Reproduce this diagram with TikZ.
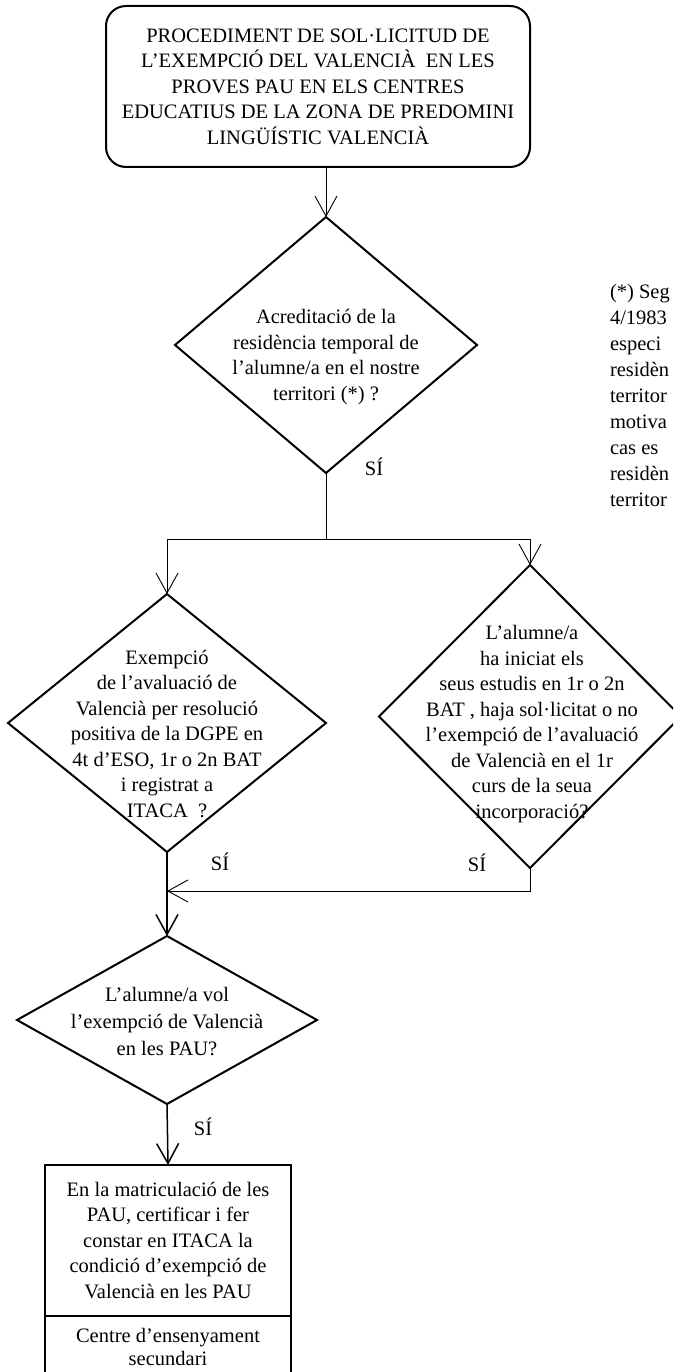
\documentclass[tikz,border=0pt]{standalone}
\usepackage{fontspec}
\setmainfont{Liberation Serif}
\usetikzlibrary{shapes.geometric,arrows.meta,positioning}

\begin{document}
\begin{tikzpicture}[x = 1pt, y = -1pt,
        every node/.style = {font = \fontsize{20.5}{25.5}\selectfont, inner sep = 0pt, outer sep = 0pt},
        decision/.style = {diamond, draw, line width = 2pt},
        startbox/.style = {draw, line width = 2pt, rounded corners = 20pt},
        taskbox/.style = {draw, line width = 2pt, minimum width = 246pt},
        caption/.style = {align = center},
        link/.style = {line width = .9pt},
        arr/.style = {link, -{Straight Barb[length = 20pt, width = 22pt]}}]
                \useasboundingbox (0, 0) rectangle (673, 1372);
                \clip (0, 0) rectangle (673, 1372);

                \node[startbox, caption, minimum width = 424pt, minimum height = 161pt] (start) at (318, 86.5)
                    {PROCEDIMENT DE SOL·LICITUD DE\\L’EXEMPCIÓ DEL VALENCIÀ~ EN LES\\PROVES PAU EN ELS CENTRES\\EDUCATIUS DE LA ZONA DE PREDOMINI\\LINGÜÍSTIC VALENCIÀ};

                \node[decision, minimum width = 302pt, minimum height = 256pt] (residence) at (326, 345) {};
                \node[caption] (residence text) at (326, 357)
                    {Acreditació de la\\residència temporal de\\l’alumne/a en el nostre\\territori (*) ?};

                \node[decision, minimum width = 318pt, minimum height = 258pt] (exempt) at (167, 723) {};
                \node[caption] (exempt text) at (167, 734)
                    {Exempció\\de l’avaluació de\\Valencià per resolució\\positiva de la DGPE en\\4t d’ESO, 1r o 2n BAT\\i registrat a\\ITACA~ ?};

                \node[decision, minimum width = 302pt, minimum height = 303pt] (started) at (530, 716.5) {};
                \node[caption] (started text) at (532, 724)
                    {L’alumne/a\\ha iniciat els\\seus estudis en 1r o 2n\\BAT , haja sol·licitat o no\\l’exempció de l’avaluació\\de Valencià en el 1r\\curs de la seua\\incorporació?};

                \node[decision, minimum width = 300pt, minimum height = 168pt] (wants) at (167, 1020) {};
                \node[caption, font = \fontsize{20.5}{27}\selectfont] (wants text) at (167, 1022)
                    {L’alumne/a vol\\l’exempció de Valencià\\en les PAU?};

                \node[taskbox, caption, minimum height = 151pt] (enrol) at (168, 1240.5)
                    {En la matriculació de les\\PAU, certificar i fer\\constar en ITACA la\\condició d’exempció de\\Valencià en les PAU};
                \node[taskbox, caption, minimum height = 62pt, font = \fontsize{20.5}{23.5}\selectfont, below = 0pt of enrol] (school)
                    {Centre d’ensenyament\\secundari};

                \node[anchor = north west, align = left, font = \fontsize{20.5}{26}\selectfont] (note) at (610, 284)
                    {(*) Seg\\4/1983\\especi\\residèn\\territor\\motiva\\cas es\\residèn\\territor};

                \node (yes residence) at (374, 467) {SÍ};
                \node (yes exempt) at (220, 862) {SÍ};
                \node (yes started) at (477, 863) {SÍ};
                \node (yes wants) at (203, 1127) {SÍ};

                \coordinate (split) at (326, 539);
                \coordinate (join) at (167, 891);

                \draw[arr](start.south -| residence.north) to (residence.north);
                \draw[link](residence.south) to (split);
                \draw[arr](split) -| (exempt.north);
                \draw[arr](split) -| (started.north);
                \draw[arr](started.south) |- (join);
                \draw[arr, line width = 1.5pt](exempt.south) to (wants.north);
                \draw[arr, line width = 1.5pt](wants.south) to (enrol.north);
            \end{tikzpicture}
\end{document}
